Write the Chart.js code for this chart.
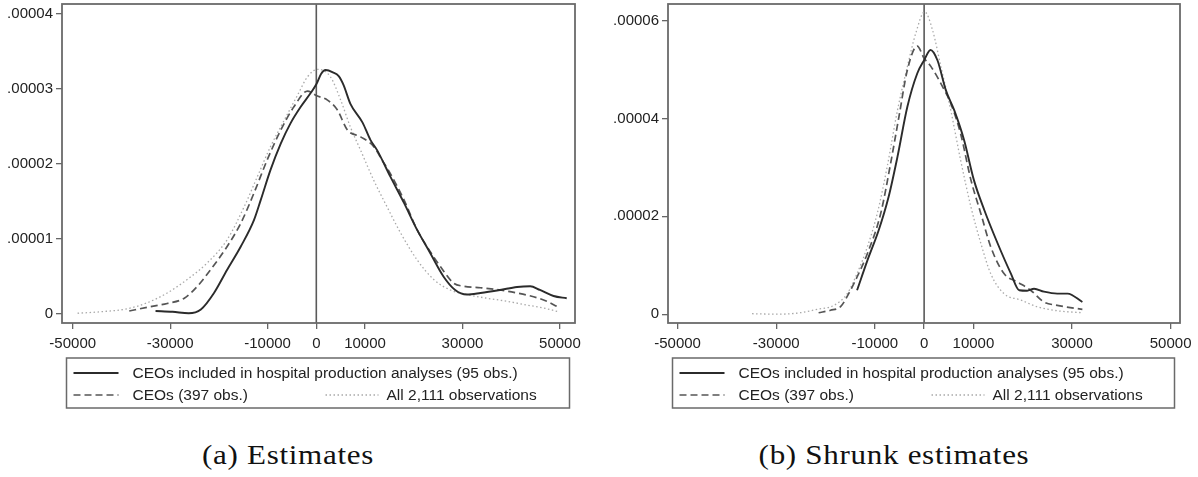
<!DOCTYPE html>
<html lang="en">
<head>
<meta charset="UTF-8">
<title>CEO estimate densities</title>
<script src="https://cdn.jsdelivr.net/npm/chart.js@4.4.1/dist/chart.umd.min.js"></script>
<style>
  body { margin: 0; background: #fff; width: 1198px; height: 477px; position: relative; overflow: hidden; }
  canvas.panel { position: absolute; top: 0; }
  .cap { position: absolute; top: 440px; font-family: "Liberation Serif", serif; font-size: 27px;
         letter-spacing: 0.6px; color: #111; transform: translateX(-50%) scaleX(1.15); white-space: nowrap; }
</style>
</head>
<body>
<canvas id="estA" class="panel" style="left:0" width="599" height="420"></canvas>
<canvas id="estB" class="panel" style="left:600px" width="598" height="420"></canvas>
<div class="cap" style="left:288px">(a) Estimates</div>
<div class="cap" style="left:894px">(b) Shrunk estimates</div>
<script>
  // series labels
  const labels = ["CEOs included in hospital production analyses (95 obs.)", "CEOs (397 obs.)", "All 2,111 observations"];

  // x in thousands, density in units of 1e-5
  // (a) Estimates
  const aSolidX  = [-33.0, -29.5, -26.2, -23.7, -21.0, -18.3, -15.5, -12.8, -11.4, -9.4, -7.3, -5.3, -3.2, -1.2, 0, 1.0, 1.9, 3.4, 4.6, 5.6, 7.0, 9.5, 11.1, 12.5, 15.2, 18.0, 20.7, 23.4, 26.1, 28.5, 30.9, 33.7, 37.7, 41.2, 43.9, 45.9, 48.7, 51.4];
  const aSolidY  = [0.04, 0.03, 0.01, 0.06, 0.28, 0.59, 0.90, 1.25, 1.52, 1.92, 2.27, 2.54, 2.76, 2.94, 3.06, 3.20, 3.25, 3.22, 3.17, 3.05, 2.80, 2.55, 2.32, 2.18, 1.83, 1.48, 1.12, 0.81, 0.50, 0.32, 0.26, 0.28, 0.32, 0.36, 0.37, 0.32, 0.24, 0.21];
  const aDashX   = [-38.4, -34.7, -30.6, -27.1, -24.4, -21.7, -18.3, -15.5, -12.8, -10.1, -7.3, -4.6, -1.8, 0, 2.3, 4.3, 6.4, 9.1, 11.8, 13.5, 15.2, 18.0, 20.7, 22.7, 25.5, 28.2, 30.2, 33.7, 37.7, 41.2, 44.6, 47.3, 49.4];
  const aDashY   = [0.04, 0.09, 0.14, 0.21, 0.37, 0.59, 0.90, 1.21, 1.61, 2.05, 2.45, 2.76, 2.97, 2.91, 2.85, 2.72, 2.45, 2.36, 2.23, 2.05, 1.87, 1.52, 1.12, 0.90, 0.63, 0.41, 0.37, 0.35, 0.32, 0.28, 0.23, 0.17, 0.10];
  const aDotX    = [-49.0, -44.2, -38.8, -34.7, -30.6, -26.5, -22.4, -18.3, -14.8, -12.1, -9.4, -6.6, -3.9, -1.8, 0.3, 2.9, 5.0, 7.0, 9.1, 11.8, 14.5, 17.3, 20.7, 24.1, 27.5, 30.9, 35.0, 39.1, 43.2, 47.3, 49.7];
  const aDotY    = [0.01, 0.03, 0.07, 0.15, 0.28, 0.46, 0.68, 0.99, 1.43, 1.83, 2.23, 2.58, 2.91, 3.16, 3.26, 3.16, 2.85, 2.49, 2.18, 1.78, 1.43, 1.08, 0.72, 0.46, 0.32, 0.26, 0.21, 0.17, 0.12, 0.07, 0.03];

  // (b) Shrunk estimates
  const bSolidX  = [-13.6, -11.5, -9.2, -7.2, -5.4, -3.4, -1.4, 0, 1.3, 2.7, 4.4, 6.1, 8.1, 10.1, 12.2, 14.9, 17.6, 19.3, 20.9, 22.3, 24.3, 27.0, 29.1, 32.1];
  const bSolidY  = [0.49, 1.10, 1.72, 2.40, 3.22, 4.24, 4.92, 5.19, 5.40, 5.19, 4.58, 4.17, 3.56, 2.74, 2.13, 1.45, 0.83, 0.49, 0.48, 0.52, 0.46, 0.42, 0.42, 0.25];
  const bDashX   = [-21.4, -19.0, -16.9, -15.3, -13.6, -11.5, -8.8, -6.8, -5.1, -3.4, -1.4, 0, 1.4, 4.1, 5.4, 7.4, 9.5, 11.5, 13.5, 16.2, 18.9, 21.6, 24.3, 27.0, 32.1];
  const bDashY   = [0.03, 0.08, 0.16, 0.42, 0.76, 1.24, 2.06, 3.08, 4.04, 4.99, 5.48, 5.23, 5.06, 4.58, 4.31, 3.69, 2.74, 2.06, 1.38, 0.83, 0.66, 0.49, 0.25, 0.18, 0.10];
  const bDotX    = [-34.9, -29.8, -25.1, -21.7, -18.3, -15.6, -13.6, -11.5, -9.5, -7.5, -5.4, -3.4, -1.7, 0.1, 1.7, 3.4, 5.4, 7.4, 9.5, 11.5, 13.5, 16.2, 19.6, 23.0, 27.0, 32.1];
  const bDotY    = [0.01, 0.0, 0.03, 0.10, 0.18, 0.42, 0.83, 1.38, 2.06, 3.01, 4.17, 5.06, 5.74, 6.18, 5.81, 5.06, 4.17, 3.15, 2.19, 1.45, 0.83, 0.42, 0.29, 0.15, 0.07, 0.03];

  // axis ticks
  const xTicks  = [-50000, -30000, -10000, 0, 10000, 30000, 50000];
  const aYTicks = [0, 0.00001, 0.00002, 0.00003, 0.00004];
  const bYTicks = [0, 0.00002, 0.00004, 0.00006];

  Chart.defaults.font.family = "'Liberation Sans', Arial, sans-serif";
  Chart.defaults.font.size = 15;
  Chart.defaults.color = '#222';

  function pts(xs, ys) {
    return xs.map((x, i) => ({ x: x * 1000, y: ys[i] * 1e-5 }));
  }

  const styles = [
    { borderColor: '#2b2b2b', borderWidth: 1.9, borderDash: [] },
    { borderColor: '#555', borderWidth: 1.7, borderDash: [7, 4] },
    { borderColor: '#a9a9a9', borderWidth: 1.3, borderDash: [1.5, 2.5] }
  ];

  // frame, zero line and the stata-style legend box
  const stataFrame = {
    id: 'stataFrame',
    beforeDatasetsDraw(chart) {
      const ca = chart.chartArea, c = chart.ctx;
      const x0 = chart.scales.x.getPixelForValue(0);
      c.save();
      c.strokeStyle = '#5a5a5a';
      c.lineWidth = 1.6;
      c.beginPath();
      c.moveTo(x0, ca.top);
      c.lineTo(x0, ca.bottom);
      c.stroke();
      c.restore();
    },
    afterDraw(chart) {
      const ca = chart.chartArea, c = chart.ctx;
      c.save();
      c.strokeStyle = '#6a6a6a';
      c.lineWidth = 1.8;
      c.strokeRect(ca.left, ca.top, ca.right - ca.left, ca.bottom - ca.top);

      const bx = ca.left + 4.5, bw = ca.right - 5.5 - bx, by = ca.bottom + 35, bh = 50;
      c.lineWidth = 1.5;
      c.strokeStyle = '#6a6a6a';
      c.strokeRect(bx, by, bw, bh);

      const items = [
        { ds: 0, x1: 7, x2: 52, tx: 66, y: 15 },
        { ds: 1, x1: 7, x2: 52, tx: 66, y: 37 },
        { ds: 2, x1: 259, x2: 312, tx: 320, y: 37 }
      ];
      c.font = "15.5px 'Liberation Sans', Arial, sans-serif";
      c.textBaseline = 'middle';
      c.fillStyle = '#222';
      items.forEach(it => {
        const d = chart.data.datasets[it.ds];
        c.strokeStyle = d.borderColor;
        c.lineWidth = d.borderWidth;
        c.setLineDash(d.borderDash);
        c.beginPath();
        c.moveTo(bx + it.x1, by + it.y);
        c.lineTo(bx + it.x2, by + it.y);
        c.stroke();
        c.setLineDash([]);
        c.fillText(d.label, bx + it.tx, by + it.y + 1);
      });
      c.restore();
    }
  };

  function makeChart(id, series, yTicks, xMin, xMax, yMin, yMax, leftW, rightPad) {
    return new Chart(document.getElementById(id), {
      type: 'scatter',
      data: {
        datasets: series.map((s, i) => Object.assign({
          label: labels[i],
          data: pts(s[0], s[1]),
          showLine: true,
          pointRadius: 0,
          cubicInterpolationMode: 'monotone',
          fill: false
        }, styles[i]))
      },
      options: {
        responsive: false,
        animation: false,
        layout: { padding: { top: 4, right: rightPad, bottom: 0, left: 0 } },
        plugins: { legend: { display: false }, tooltip: { enabled: false } },
        scales: {
          x: {
            type: 'linear', min: xMin, max: xMax,
            border: { display: false },
            grid: { drawOnChartArea: false, drawTicks: true, tickLength: 6, color: '#666', lineWidth: 1.3 },
            ticks: { padding: 6, maxRotation: 0, autoSkip: false, callback: v => String(v) },
            afterBuildTicks: s => { s.ticks = xTicks.map(v => ({ value: v })); },
            afterFit: s => { s.height = 420 - 323; s.paddingLeft = 0; s.paddingRight = 0; }
          },
          y: {
            type: 'linear', min: yMin, max: yMax,
            border: { display: false },
            grid: { drawOnChartArea: false, drawTicks: true, tickLength: 6, color: '#666', lineWidth: 1.3 },
            ticks: { padding: 3, callback: v => v === 0 ? '0' : v.toFixed(5).replace(/^0/, '') },
            afterBuildTicks: s => { s.ticks = yTicks.map(v => ({ value: v })); },
            afterFit: s => { s.width = leftW; s.paddingTop = 0; s.paddingBottom = 0; }
          }
        }
      },
      plugins: [stataFrame]
    });
  }

  makeChart('estA', [[aSolidX, aSolidY], [aDashX, aDashY], [aDotX, aDotY]], aYTicks,
            -52200, 53100, -0.0000012, 0.0000413, 62, 24);
  makeChart('estB', [[bSolidX, bSolidY], [bDashX, bDashY], [bDotX, bDotY]], bYTicks,
            -51950, 51900, -0.0000018, 0.0000634, 68, 18);
</script>
</body>
</html>
